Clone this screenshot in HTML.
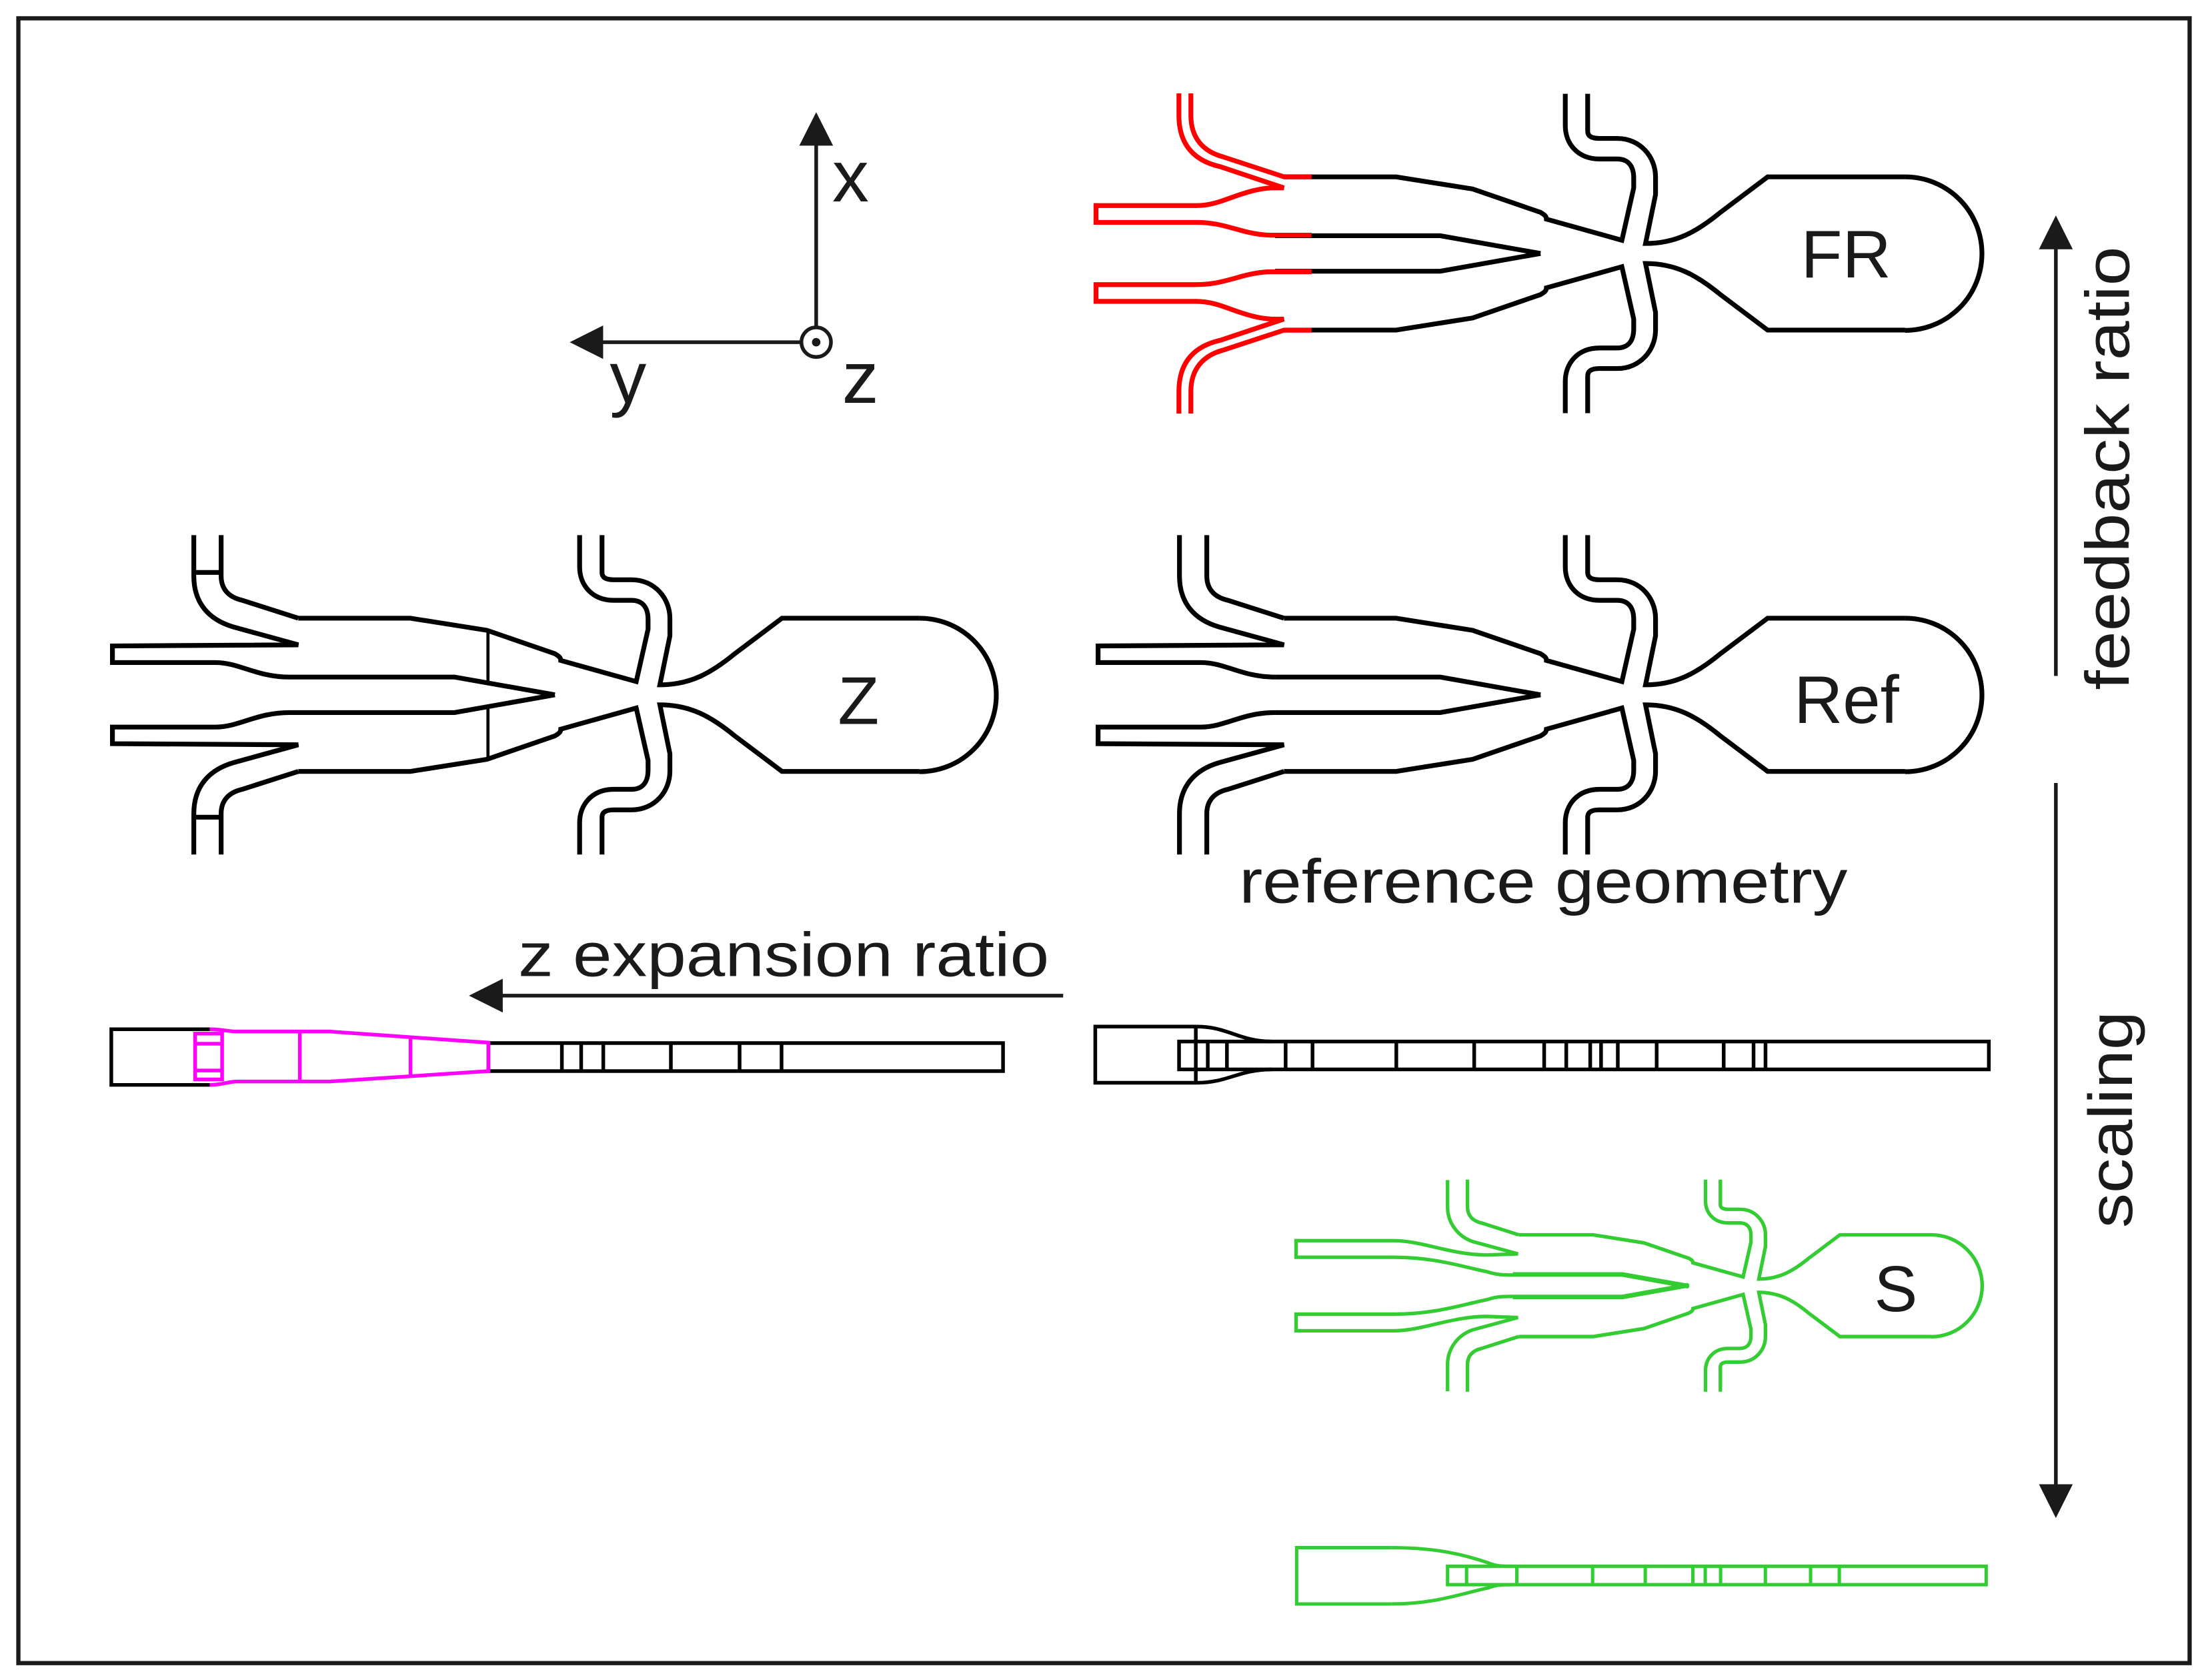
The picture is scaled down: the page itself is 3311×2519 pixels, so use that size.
<!DOCTYPE html>
<html><head><meta charset="utf-8"><style>
html,body{margin:0;padding:0;background:#fff;}
svg{display:block;}
text{font-family:"Liberation Sans",Arial,sans-serif;fill:#1a1a1a;}
</style></head><body>
<svg width="3311" height="2519" viewBox="0 0 1568 1193" xmlns="http://www.w3.org/2000/svg">
<defs>
  <g id="refA">
    <path d="M837.6,380 V409 C837.6,428 848,440 865.7,445.2 L911.8,457.9 L779.8,458.7 V470.5 L853,470.5 C870,470.5 882,480.8 905.5,480.8"/>
    <path d="M857,380 V409 C857,418 862,424 872,426.3 L911.8,439"/>
  </g>
  <g id="refB">
    <path d="M905.5,480.8 L1022.8,480.8 L1094,493.4"/>
    <path d="M911.8,439 L991.4,439 L1045.8,447.6 L1094,464.2 C1097,466 1098.2,467 1098.2,469 L1151.8,484 L1160.2,446.8 V439.9 C1160.2,430 1155,426.3 1148.5,426.3 H1136 C1120,426.3 1111.6,415 1111.6,402.6 V380"/>
    <path d="M1127.5,380 V406.5 C1127.5,410 1130,411.7 1136,411.7 H1148.5 C1165,411.7 1175.7,425 1175.7,439 V451.6 L1168.6,486.3 C1190,486.3 1205,478 1221.8,464.2 L1255.3,439 H1353"/>
  </g>
  <g id="redHalf">
    <path d="M845.7,379.7 V395.4 C845.7,412 855,421 868.3,424.7 L911.7,438.9 H931.4"/>
    <path d="M837.2,379.7 V395.4 C837.2,418 850,428 866.7,431.8 L911.7,446.8 H904.6 C895,446.8 885,450 876.1,453.1 C868,456 860,459.4 849.3,459.4 H778.3 V471.3 H849.3 C862,471.3 870,474 877.7,476 C886,478.5 895,480.4 903,480.4 H931.4"/>
  </g>
  <g id="zExtra">
    <path d="M837.6,406.5 H857"/>
    <path d="M1046.5,447.5 V485.4" stroke-width="2.2"/>
  </g>
  <g id="sA1">
    <path d="M1028,838 V857.2 C1028,868 1035,878 1046,881.7 L1078,890.4 L1055.7,891.2 C1030,891 1010,881 989.7,881 L920.4,881 V892.8 L989.7,892.8 C1020,892.8 1040,900 1055.7,903 C1062,905 1066,905.4 1071.8,905.4 L1152,905.4 L1199,913.8"/>
  </g>
</defs>

<rect x="13" y="13" width="1542" height="1168" fill="none" stroke="#1a1a1a" stroke-width="3"/>

<g stroke="#1a1a1a" stroke-width="2.6" fill="none">
  <line x1="579.6" y1="232" x2="579.6" y2="100"/>
  <line x1="568" y1="243" x2="425" y2="243"/>
  <circle cx="579.6" cy="243" r="10.5"/>
</g>
<circle cx="579.6" cy="243" r="3" fill="#1a1a1a"/>
<polygon points="579.6,79.7 567.6,103.4 591.6,103.4" fill="#1a1a1a"/>
<polygon points="404.6,243 428.3,231.1 428.3,254.9" fill="#1a1a1a"/>
<text x="591" y="143" font-size="52">x</text>
<text x="433" y="286" font-size="52">y</text>
<text x="598" y="286" font-size="52">z</text>

<g fill="none" stroke="#000" stroke-width="3.4">
  <use href="#refA"/><use href="#refB"/>
  <g transform="translate(0,986.8) scale(1,-1)"><use href="#refA"/><use href="#refB"/></g>
  <path d="M1353,439 A54.5,54.5 0 0 1 1353,548"/>
</g>
<text x="1274" y="513.5" font-size="48">Ref</text>

<g transform="translate(0,-313.4)" fill="none" stroke-width="3.4">
  <g stroke="#000">
    <use href="#refB"/>
    <g transform="translate(0,986.8) scale(1,-1)"><use href="#refB"/></g>
    <path d="M1353,439 A54.5,54.5 0 0 1 1353,548"/>
  </g>
  <g stroke="#ff0000">
    <use href="#redHalf"/>
    <g transform="translate(0,986.8) scale(1,-1)"><use href="#redHalf"/></g>
  </g>
</g>
<text x="1279" y="197" font-size="48">FR</text>

<g transform="translate(-700,0)" fill="none" stroke="#000" stroke-width="3.4">
  <use href="#refA"/><use href="#refB"/><use href="#zExtra"/>
  <g transform="translate(0,986.8) scale(1,-1)"><use href="#refA"/><use href="#refB"/><use href="#zExtra"/></g>
  <path d="M1353,439 A54.5,54.5 0 0 1 1353,548"/>
</g>
<text x="595" y="514" font-size="48">Z</text>

<g fill="none" stroke="#33cc33">
  <g transform="translate(1408,913) scale(0.664) translate(-1408,-493.4)" stroke-width="3.8">
    <path d="M857,380 V409 C857,418 862,424 872,426.3 L911.8,439"/>
    <use href="#refB"/>
    <g transform="translate(0,986.8) scale(1,-1)">
      <path d="M857,380 V409 C857,418 862,424 872,426.3 L911.8,439"/>
      <use href="#refB"/>
    </g>
    <path d="M1353,439 A54.5,54.5 0 0 1 1353,548"/>
  </g>
  <g stroke-width="2.5">
    <use href="#sA1"/>
    <g transform="translate(0,1826) scale(1,-1)"><use href="#sA1"/></g>
  </g>
</g>
<text x="1331" y="931" font-size="46">S</text>

<g fill="none" stroke="#000" stroke-width="2.6">
  <path d="M149,730.9 H79 V770.4 H149"/>
  <rect x="346.8" y="740.7" width="365.5" height="19.9"/>
  <path d="M399,740.7V760.6 M412.7,740.7V760.6 M428.4,740.7V760.6 M476.4,740.7V760.6 M525.2,740.7V760.6 M555,740.7V760.6"/>
</g>
<g fill="none" stroke="#ff00ff" stroke-width="2.6">
  <path d="M149,730.9 C158,731 162,732.5 168.3,732.5 H234 L346.8,740.4 V760.6 L234,768 H168.3 C162,768 158,770.4 149,770.4"/>
  <rect x="138.5" y="734" width="19.2" height="32.5"/>
  <path d="M138.5,741.2 H157.7 M138.5,760.2 H157.7 M212.9,732.5 V768 M291.5,736.5 V764"/>
</g>

<g fill="none" stroke="#000" stroke-width="2.6">
  <path d="M850,729 H777.8 V768.9 H850"/>
  <path d="M850,729 C872,729 880,739.6 903.2,739.6"/>
  <path d="M850,768.9 C872,768.9 880,759.4 903.2,759.4"/>
  <path d="M849.2,729 V768.9"/>
  <rect x="837.3" y="739.6" width="575.1" height="19.8"/>
  <path d="M857.7,739.6V759.4 M871.3,739.6V759.4 M913,739.6V759.4 M932.1,739.6V759.4 M991.6,739.6V759.4 M1046.9,739.6V759.4 M1096.6,739.6V759.4 M1112.3,739.6V759.4 M1129.3,739.6V759.4 M1137,739.6V759.4 M1148.9,739.6V759.4 M1176.5,739.6V759.4 M1224.1,739.6V759.4 M1245.3,739.6V759.4 M1253.8,739.6V759.4"/>
</g>

<g fill="none" stroke="#33cc33" stroke-width="2.4">
  <path d="M988,1099 H920.8 V1139 H988"/>
  <path d="M988,1099 C1020,1099 1040,1104 1056.9,1109.8 C1062,1112 1066,1112.2 1073.3,1112.2"/>
  <path d="M988,1139 C1020,1139 1040,1131 1056.9,1127.6 C1062,1125.5 1066,1125.3 1073.3,1125.3"/>
  <rect x="1028" y="1112.2" width="382.5" height="13.1"/>
  <path d="M1041.5,1112.2V1125.3 M1077.2,1112.2V1125.3 M1131,1112.2V1125.3 M1168.4,1112.2V1125.3 M1202.2,1112.2V1125.3 M1211,1112.2V1125.3 M1221.9,1112.2V1125.3 M1253.7,1112.2V1125.3 M1285.8,1112.2V1125.3 M1306.2,1112.2V1125.3"/>
</g>

<text x="880" y="641" font-size="44" textLength="432" lengthAdjust="spacingAndGlyphs">reference geometry</text>
<text x="368" y="693" font-size="44" textLength="377" lengthAdjust="spacingAndGlyphs">z expansion ratio</text>
<line x1="755" y1="707" x2="352" y2="707" stroke="#1a1a1a" stroke-width="2.6"/>
<polygon points="333,707 357,695 357,719" fill="#1a1a1a"/>

<line x1="1460" y1="480" x2="1460" y2="172" stroke="#1a1a1a" stroke-width="2.6"/>
<polygon points="1460,153 1448,177 1472,177" fill="#1a1a1a"/>
<line x1="1460" y1="556" x2="1460" y2="1058" stroke="#1a1a1a" stroke-width="2.6"/>
<polygon points="1460,1078 1448,1054 1472,1054" fill="#1a1a1a"/>

<text transform="translate(1512,490) rotate(-90)" font-size="44" textLength="315" lengthAdjust="spacingAndGlyphs">feedback ratio</text>
<text transform="translate(1514,872) rotate(-90)" font-size="44" textLength="154" lengthAdjust="spacingAndGlyphs">scaling</text>
</svg>
</body></html>
